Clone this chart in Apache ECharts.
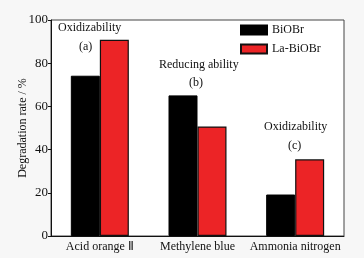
<!DOCTYPE html>
<html>
<head>
<meta charset="utf-8">
<script src="https://cdn.jsdelivr.net/npm/echarts@6/dist/echarts.min.js"></script>
<style>
  html, body { margin: 0; padding: 0; background: #f7f7f7; }
  #chart { width: 364px; height: 258px; }
</style>
</head>
<body>
<div id="chart"></div>
<script>
// 数据
var categories = ['Acid orange \u2161', 'Methylene blue', 'Ammonia nitrogen'];
var biobr = [74.2, 65.1, 19.2];
var labiobr = [90.8, 50.7, 35.5];
var yTicks = [0, 20, 40, 60, 80, 100];
var yName = 'Degradation rate / %';

var serif = 'Liberation Serif';

var myChart = echarts.init(document.getElementById('chart'));

var option = {
    backgroundColor: '#f7f7f7',
    animation: false,
    textStyle: { fontFamily: serif },
    grid: {
        left: 51,
        right: 20,
        top: 20,
        bottom: 22,
        show: true,
        backgroundColor: '#ffffff',
        borderColor: '#444',
        borderWidth: 1
    },
    legend: {
        data: ['BiOBr', 'La-BiOBr'],
        orient: 'vertical',
        left: 240,
        top: 24,
        icon: 'rect',
        itemWidth: 26,
        itemHeight: 9,
        itemGap: 7,
        padding: 0,
        textStyle: { fontFamily: serif, fontSize: 12, color: '#111' }
    },
    xAxis: {
        type: 'category',
        data: categories,
        axisLine: { lineStyle: { color: '#111' } },
        axisTick: { show: false },
        axisLabel: { interval: 0, fontFamily: serif, fontSize: 12, color: '#111', margin: 5 }
    },
    yAxis: {
        type: 'value',
        min: yTicks[0],
        max: yTicks[yTicks.length - 1],
        interval: 20,
        axisLine: { show: true, lineStyle: { color: '#111' } },
        axisTick: { show: true, length: 3, lineStyle: { color: '#111' } },
        axisLabel: { fontFamily: serif, fontSize: 13, color: '#111', margin: 3 },
        splitLine: { show: false }
    },
    series: [{
        name: 'BiOBr',
        type: 'bar',
        data: biobr,
        barWidth: 29,
        barGap: '0%',
        itemStyle: { color: '#000000', borderColor: '#000', borderWidth: 1 }
    }, {
        name: 'La-BiOBr',
        type: 'bar',
        data: labiobr,
        barWidth: 29,
        barGap: '0%',
        itemStyle: { color: '#ec2426', borderColor: '#111', borderWidth: 1.2 }
    }],
    graphic: [
        // y轴标题
        { type: 'text', x: 23, y: 128, rotation: Math.PI / 2,
          style: { text: yName, font: '12px ' + serif, fill: '#111', align: 'center', verticalAlign: 'middle' } },
        { type: 'text', left: 58, top: 22, style: { text: 'Oxidizability', font: '12px ' + serif, fill: '#111' } },
        { type: 'text', left: 79, top: 41, style: { text: '(a)', font: '12px ' + serif, fill: '#111' } },
        { type: 'text', left: 159, top: 59, style: { text: 'Reducing ability', font: '12px ' + serif, fill: '#111' } },
        { type: 'text', left: 189, top: 77, style: { text: '(b)', font: '12px ' + serif, fill: '#111' } },
        { type: 'text', left: 264, top: 121, style: { text: 'Oxidizability', font: '12px ' + serif, fill: '#111' } },
        { type: 'text', left: 288, top: 140, style: { text: '(c)', font: '12px ' + serif, fill: '#111' } }
    ]
};

myChart.setOption(option);
</script>
</body>
</html>
